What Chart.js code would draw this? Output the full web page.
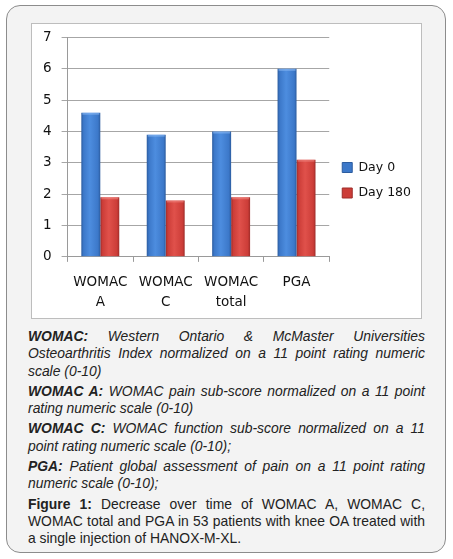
<!DOCTYPE html>
<html>
<head>
<meta charset="utf-8">
<script src="https://cdn.jsdelivr.net/npm/chart.js@4/dist/chart.umd.min.js"></script>
<style>
  html, body { margin: 0; padding: 0; background: #fff; }
  .card {
    position: absolute; left: 6px; top: 5px; width: 438px; height: 546px;
    border: 1.5px solid #8c8c8c; border-radius: 14px; background: #f3f3f3;
  }
  .chartBox {
    position: absolute; left: 24px; top: 17px; width: 389px; height: 294px;
    border: 1px solid #bdbdbd; background: #fff;
  }
  .caption {
    position: absolute; left: 21px; top: 322px; width: 397px;
    font-family: "Liberation Sans", Arial, sans-serif; font-size: 13.9px;
    line-height: 17.3px; color: #222; text-align: justify;
  }
  .caption p { margin: 0 0 3px 0; font-style: italic; }
  .caption p.fig { font-style: normal; }
</style>
</head>
<body>
<div class="card">
  <div class="chartBox"><canvas id="myChart" width="389" height="294"></canvas></div>
  <div class="caption">
    <p><b>WOMAC:</b> Western Ontario &amp; McMaster Universities Osteoarthritis Index normalized on a 11 point rating numeric scale (0-10)</p>
    <p><b>WOMAC A:</b> WOMAC pain sub-score normalized on a 11 point rating numeric scale (0-10)</p>
    <p><b>WOMAC C:</b> WOMAC function sub-score normalized on a 11 point rating numeric scale (0-10);</p>
    <p><b>PGA:</b> Patient global assessment of pain on a 11 point rating numeric scale (0-10);</p>
    <p class="fig"><b>Figure 1:</b> Decrease over time of WOMAC A, WOMAC C, WOMAC total and PGA in 53 patients with knee OA treated with a single injection of HANOX-M-XL.</p>
  </div>
</div>
<script>
// Data
const categories = [['WOMAC', 'A'], ['WOMAC', 'C'], ['WOMAC', 'total'], 'PGA'];
const day0 = [4.6, 3.9, 4.0, 6.0];
const day180 = [1.9, 1.8, 1.9, 3.1];
const yTicks = [0, 1, 2, 3, 4, 5, 6, 7];

const fontName = '"DejaVu Sans", Verdana, sans-serif';

// colours: edge, light, middle
const blueShades = ['#2c5c9f', '#4d8ddf', '#3c78c9'];
const redShades = ['#9e2c29', '#e0514b', '#cc3d38'];

// bevel look on each bar, drawn from the bar elements' positions
const bevelBars = {
  id: 'bevelBars',
  beforeDatasetsDraw(chart) {
    const ctx = chart.ctx;
    chart.data.datasets.forEach((ds, i) => {
      const shades = i === 0 ? blueShades : redShades;
      chart.getDatasetMeta(i).data.forEach(bar => {
        const left = bar.x - bar.width / 2;
        const right = bar.x + bar.width / 2;
        const g = ctx.createLinearGradient(left, 0, right, 0);
        g.addColorStop(0, shades[0]);
        g.addColorStop(0.12, shades[2]);
        g.addColorStop(0.45, shades[1]);
        g.addColorStop(0.88, shades[2]);
        g.addColorStop(1, shades[0]);
        bar.options.backgroundColor = g;
      });
    });
  },
  afterDatasetsDraw(chart) {
    const ctx = chart.ctx;
    chart.data.datasets.forEach((ds, i) => {
      chart.getDatasetMeta(i).data.forEach(bar => {
        ctx.save();
        ctx.globalAlpha = 0.55;
        ctx.fillStyle = i === 0 ? '#8fbdf5' : '#f08a85';
        ctx.fillRect(bar.x - bar.width / 2 + 1, bar.y, bar.width - 2, 2);
        ctx.restore();
      });
    });
  }
};

const data = {
  labels: categories,
  datasets: [
    {
      label: 'Day 0',
      data: day0,
      // scriptable so every bar gets its own options object
      backgroundColor: () => blueShades[2],
      borderWidth: 0,
      categoryPercentage: 0.58,
      barPercentage: 1.0
    },
    {
      label: 'Day 180',
      data: day180,
      backgroundColor: () => redShades[2],
      borderWidth: 0,
      categoryPercentage: 0.58,
      barPercentage: 1.0
    }
  ]
};

const config = {
  type: 'bar',
  data: data,
  plugins: [bevelBars],
  options: {
    responsive: false,
    animation: false,
    devicePixelRatio: 1,
    layout: { padding: { left: 1, right: 0, top: 13.5, bottom: -5 } },
    plugins: {
      legend: {
        position: 'right',
        labels: {
          font: { family: fontName, size: 12.5 },
          color: '#111',
          boxWidth: 10,
          boxHeight: 10,
          padding: 13,
          generateLabels(chart) {
            return chart.data.datasets.map((ds, i) => ({
              text: ds.label,
              fillStyle: i === 0 ? blueShades[2] : redShades[2],
              strokeStyle: i === 0 ? blueShades[0] : redShades[0],
              lineWidth: 1,
              fontColor: '#111',
              datasetIndex: i
            }));
          }
        }
      },
      tooltip: { enabled: false }
    },
    scales: {
      x: {
        // let the layout padding decide the plot edges
        afterFit(scale) { scale.paddingLeft = 0; scale.paddingRight = 0; },
        grid: {
          drawOnChartArea: false,
          offset: true,
          tickLength: 5,
          color: '#9a9a9a'
        },
        border: { color: '#9a9a9a' },
        ticks: {
          font: { family: fontName, size: 13.5, lineHeight: 1.45 },
          color: '#111',
          padding: 11,
          maxRotation: 0
        }
      },
      y: {
        min: 0,
        max: 7,
        afterBuildTicks(axis) {
          axis.ticks = yTicks.map(v => ({ value: v }));
        },
        afterFit(scale) { scale.paddingTop = 0; scale.paddingBottom = 0; },
        grid: { color: '#a6a6a6', tickLength: 6 },
        border: { color: '#9a9a9a' },
        ticks: {
          font: { family: fontName, size: 13.5 },
          color: '#111',
          padding: 10
        }
      }
    }
  }
};

var myChart = new Chart(document.getElementById('myChart'), config);
</script>
</body>
</html>
